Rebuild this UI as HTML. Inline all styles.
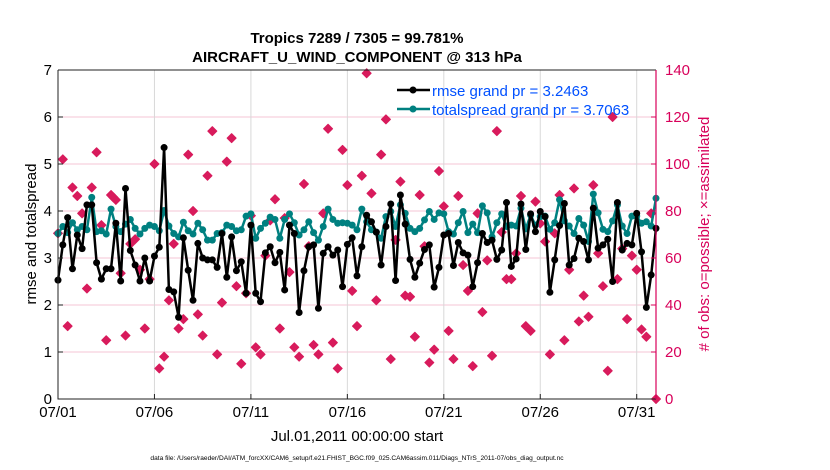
<!DOCTYPE html>
<html><head><meta charset="utf-8"><style>
body{margin:0;background:#fff;}
svg{display:block;font-family:"Liberation Sans",Arial,sans-serif;}
</style></head><body>
<svg id="chart" width="830" height="470" viewBox="0 0 830 470">
<text x="357" y="43" text-anchor="middle" font-size="15" font-weight="bold">Tropics 7289 / 7305 = 99.781%</text>
<text x="357" y="62" text-anchor="middle" font-size="15" font-weight="bold">AIRCRAFT_U_WIND_COMPONENT @ 313 hPa</text>
<g id="grid"></g>
<g id="obs"></g>
<g id="series"></g>
<g id="axes"></g>
<text transform="translate(36,234) rotate(-90)" text-anchor="middle" font-size="15">rmse and totalspread</text>
<text transform="translate(709,234) rotate(-90)" text-anchor="middle" font-size="15" fill="#d8005a"># of obs: o=possible; ×=assimilated</text>
<text x="357" y="441" text-anchor="middle" font-size="15">Jul.01,2011 00:00:00 start</text>
<text x="357" y="460" text-anchor="middle" font-size="6.6">data file: /Users/raeder/DAI/ATM_forcXX/CAM6_setup/f.e21.FHIST_BGC.f09_025.CAM6assim.011/Diags_NTrS_2011-07/obs_diag_output.nc</text>
<g>
<line x1="397" y1="90" x2="430" y2="90" stroke="#000" stroke-width="2.5"/>
<circle cx="413" cy="90" r="3.5" fill="#000"/>
<text x="432" y="96" font-size="15" fill="#0050ff">rmse grand pr = 3.2463</text>
<line x1="397" y1="109" x2="430" y2="109" stroke="#008080" stroke-width="2.5"/>
<circle cx="413" cy="109" r="3.5" fill="#008080"/>
<text x="432" y="115" font-size="15" fill="#0050ff">totalspread grand pr = 3.7063</text>
</g>
</svg>
<script>
const rmse=[2.53,3.28,3.86,2.77,3.49,3.2,4.13,4.13,2.9,2.55,2.77,2.77,3.74,2.51,4.48,3.16,2.85,2.51,3.0,2.51,3.04,3.23,5.35,2.33,2.28,1.74,3.43,2.74,2.1,3.31,3.0,2.96,
2.96,2.8,3.52,2.59,3.45,2.73,2.92,2.25,3.7,2.25,2.07,3.11,3.24,2.9,3.12,2.32,3.7,3.52,1.84,2.73,3.24,3.28,1.93,3.1,3.24,3.06,3.17,2.39,3.29,3.43,2.62,3.24,
3.91,3.77,3.55,2.85,3.67,4.15,2.52,4.34,3.72,2.97,2.59,2.89,3.18,3.28,2.38,2.8,3.49,3.52,2.84,3.33,3.11,3.06,2.39,2.9,3.52,3.33,3.38,2.97,3.17,4.18,2.82,
2.98,4.15,3.18,3.94,3.56,3.99,3.88,2.27,2.96,3.69,4.16,2.85,2.99,3.42,3.35,2.96,4.06,3.21,3.28,3.4,2.5,4.18,3.17,3.31,3.28,3.95,3.13,1.95,2.64,3.63];
const spread=[3.52,3.67,3.54,3.75,3.6,3.67,3.6,4.29,3.56,3.58,3.51,4.04,3.67,3.56,3.72,3.82,3.63,3.51,3.63,3.7,3.67,3.58,4.01,3.68,3.52,3.45,3.76,3.58,3.51,3.74,3.6,3.38,
3.38,3.52,3.54,3.7,3.67,3.58,3.6,3.89,3.94,3.42,3.63,3.74,3.87,3.82,3.42,3.82,3.94,3.75,3.49,3.6,3.77,3.54,3.38,3.67,4.04,3.82,3.74,3.75,3.74,3.7,3.6,4.04,
3.77,3.6,3.55,3.42,3.88,3.99,3.67,4.13,3.95,3.63,3.56,3.63,3.81,3.99,3.82,3.96,3.94,3.56,3.51,3.75,3.99,3.54,3.72,3.54,4.11,3.96,3.45,3.75,3.94,3.67,3.7,
3.68,4.06,3.62,3.91,3.7,3.88,3.89,3.61,3.75,4.24,3.79,3.68,3.52,3.84,3.7,3.35,4.36,3.96,3.61,3.56,3.79,4.13,3.68,3.52,3.89,3.89,3.74,3.77,3.68,4.27];
const obsDays=[0,0.25,0.5,0.75,1,1.25,1.5,1.75,2,2.25,2.5,2.75,2.87,3,3.25,3.5,3.75,4,4.25,4.5,4.75,5,5.25,5.5,5.75,6,6.25,6.5,6.75,7,7.25,7.5,7.75,
8,8.25,8.5,8.75,9,9.25,9.5,9.75,10,10.25,10.5,10.75,11,11.25,11.5,11.75,12,12.25,12.5,12.75,13,13.25,13.5,13.75,14,14.25,14.5,14.75,15,15.25,15.5,15.75,
16,16.25,16.5,16.75,17,17.25,17.5,17.75,18,18.25,18.5,18.75,19,19.25,19.5,19.75,20,20.25,20.5,20.75,21,21.25,21.5,21.75,22,22.25,22.5,22.75,23,23.25,23.5,
23.75,24,24.25,24.5,24.75,25,25.25,25.5,25.75,26,26.25,26.5,26.75,27,27.25,27.5,27.75,28,28.25,28.5,28.75,29,29.25,29.5,29.75,30,30.25,30.5,30.75,31];
const obsCount=[70.5,102,31,90,86.4,79,47,90,105,74,25,86.8,85.8,84.7,53.5,27,66,68,55,30,51,100,13,18,42,66,30,34,104,80,36,27,95,
114,19,41,101,111,48,15,45,78,22,19,61,76,85,30,77,54,22,18,91.5,65,23,19,79,115,24,13,106,91,46,31,95,
138.6,87.5,42,104,119,17,67.7,92.5,44,43.5,26.5,86.8,65,15.5,21,97,82,29,17,86.4,57,46,14,79,37,59,18.4,114,71,51,51,
62,86.4,31,29,84,74.7,67,19,70.5,86.8,25,55,89.6,33,44,35,91,62,48,12,120,51,64,34,61,55,29.6,26.5,79,0];
const leftTicks=[0,1,2,3,4,5,6,7];
const rightTicks=[0,20,40,60,80,100,120,140];
const dateTicks=[0,5,10,15,20,25,30];
const dateLabels=["07/01","07/06","07/11","07/16","07/21","07/26","07/31"];
const stepDays=0.25;

const X0=58,X1=656,Y0=399,Y1=70,DAYS=31;
const xs=d=>X0+(X1-X0)*d/DAYS;
const yl=v=>Y0-(Y0-Y1)*v/7;
const yr=v=>Y0-(Y0-Y1)*v/140;
const NS="http://www.w3.org/2000/svg";
function mk(tag,attrs,parent){const e=document.createElementNS(NS,tag);for(const k in attrs)e.setAttribute(k,attrs[k]);parent.appendChild(e);return e;}
const grid=document.getElementById('grid'),axes=document.getElementById('axes'),obsG=document.getElementById('obs'),ser=document.getElementById('series');

leftTicks.forEach(v=>{
  if(v>0&&v<7){const g=mk('line',{x1:X0,x2:X1,y1:yl(v),y2:yl(v),stroke:'#f4c6d6','stroke-width':1},grid);
  
  }
  const t=mk('text',{x:X0-6,y:yl(v)+5,'text-anchor':'end','font-size':15},axes);t.textContent=v;
  
  
  mk('line',{x1:X0,x2:X0+5,y1:yl(v),y2:yl(v),stroke:'#222'},axes);
});
rightTicks.forEach(v=>{
  const t=mk('text',{x:X1+9,y:yr(v)+5,'font-size':15,fill:'#d8005a'},axes);t.textContent=v;
  
  
  mk('line',{x1:X1-5,x2:X1,y1:yr(v),y2:yr(v),stroke:'#d8005a'},axes);
});
dateTicks.forEach((d,i)=>{
  if(d>0){const g=mk('line',{x1:xs(d),x2:xs(d),y1:Y1,y2:Y0,stroke:'#d8d8d8','stroke-width':1},grid);
  
  }
  mk('line',{x1:xs(d),x2:xs(d),y1:Y0,y2:Y0-5,stroke:'#222'},axes);
  const t=mk('text',{x:xs(d),y:Y0+18,'text-anchor':'middle','font-size':15},axes);t.textContent=dateLabels[i];
  
  
});
mk('path',{d:`M${X0},${Y1}V${Y0}H${X1}`,fill:'none',stroke:'#222','stroke-width':1},axes);
mk('line',{x1:X0,x2:X1,y1:Y1,y2:Y1,stroke:'#222'},axes);
mk('line',{x1:X1,x2:X1,y1:Y1,y2:Y0,stroke:'#d8005a','stroke-width':1.2},axes);

obsDays.forEach((d,i)=>{
  const cx=xs(d),cy=yr(obsCount[i]),s=4.5;
  const p=mk('polygon',{points:`${cx},${cy-s} ${cx+s},${cy} ${cx},${cy+s} ${cx-s},${cy}`,fill:'#d81b5c',stroke:'#d81b5c','stroke-width':1,'stroke-linejoin':'round'},obsG);
  
  
});

function series(vals,color,name){
  const pts=vals.map((v,i)=>`${xs(i*stepDays).toFixed(1)},${yl(v).toFixed(1)}`).join(' ');
  const l=mk('polyline',{points:pts,fill:'none',stroke:color,'stroke-width':2.5,'stroke-linejoin':'round'},ser);
  
  
  vals.forEach((v,i)=>{
    const c=mk('circle',{cx:xs(i*stepDays),cy:yl(v),r:3.5,fill:color},ser);
    
    
  });
}
series(spread,'#008080','totalspread');
series(rmse,'#000','rmse');
</script>
</body></html>
